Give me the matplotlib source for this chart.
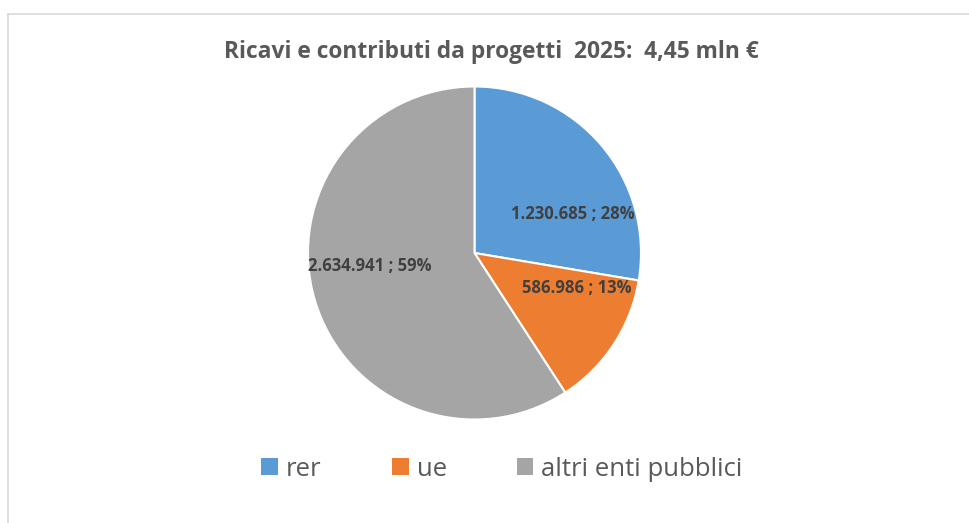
import matplotlib.pyplot as plt
from matplotlib.patches import Patch
from matplotlib.lines import Line2D

plt.rcParams['font.family'] = ['Open Sans', 'DejaVu Sans']

categorie = ['rer', 'ue', 'altri enti pubblici']
valori = [1230685, 586986, 2634941]
colori = ['#5B9BD5', '#ED7D31', '#A5A5A5']
titolo = 'Ricavi e contributi da progetti  2025:  4,45 mln €'

# posizioni etichette (coordinate del grafico, raggio = 1)
pos_etichette = [(0.59, 0.235), (0.615, -0.211), (-0.630, -0.078)]

W, H = 970, 523
fig = plt.figure(figsize=(W / 100, H / 100), dpi=100)

cx, cy, r = 474.5, 253, 166.5
ax = fig.add_axes([(cx - r) / W, (H - cy - r) / H, 2 * r / W, 2 * r / H])
wedges, _ = ax.pie(valori, colors=colori, startangle=90, counterclock=False,
                   radius=1, wedgeprops=dict(edgecolor='white', linewidth=1.5))
ax.set_xlim(-1, 1)
ax.set_ylim(-1, 1)
ax.set_aspect('equal')
ax.axis('off')

totale = sum(valori)
for v, (x, y) in zip(valori, pos_etichette):
    testo = f"{v:,}".replace(",", ".") + " ; " + f"{round(v / totale * 100)}%"
    ax.text(x, y, testo, ha='center', va='center', fontsize=12,
            fontweight='bold', color='#404040')

fig.text(491 / W, 1 - 52 / H, titolo, ha='center', va='center',
         fontsize=16.4, fontweight='bold', color='#595959')

maniglie = [Patch(facecolor=c, edgecolor='none') for c in colori]
fig.legend(maniglie, categorie, loc='center', bbox_to_anchor=(502 / W, 1 - 469 / H),
           ncol=3, frameon=False, fontsize=18.5, handlelength=0.66, handleheight=0.66,
           handletextpad=0.31, columnspacing=2.72, labelcolor='#595959')

# cornice grigia
fig.add_artist(Line2D([8 / W, 1], [1 - 14 / H, 1 - 14 / H], color='#D9D9D9', lw=1.2))
fig.add_artist(Line2D([8 / W, 8 / W], [0, 1 - 14 / H], color='#D9D9D9', lw=1.2))

fig.savefig('out.png', dpi=100)
